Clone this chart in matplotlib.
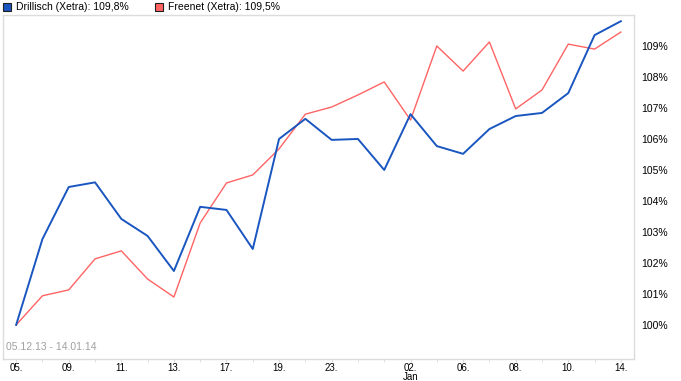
import matplotlib
matplotlib.use("Agg")
import matplotlib.pyplot as plt
from matplotlib.patches import Rectangle
from matplotlib.ticker import FixedLocator, FuncFormatter

# trading days 05.12.13 - 14.01.14 (Xetra)
days = ["05.", "06.", "09.", "10.", "11.", "12.", "13.", "16.", "17.", "18.",
        "19.", "20.", "23.", "27.", "30.", "02.", "03.", "06.", "07.", "08.",
        "09.", "10.", "13.", "14."]
shown_days = ["05.", "09.", "11.", "13.", "17.", "19.", "23.", "02.\nJan",
              "06.", "08.", "10.", "14."]
shown_index = [0, 2, 4, 6, 8, 10, 12, 15, 17, 19, 21, 23]

drillisch = [100.0, 102.77, 104.45, 104.6, 103.42, 102.87, 101.74, 103.81,
             103.71, 102.45, 106.0, 106.65, 105.97, 106.0, 105.0, 106.8,
             105.77, 105.52, 106.32, 106.74, 106.84, 107.48, 109.35, 109.8]
freenet = [100.0, 100.94, 101.13, 102.13, 102.39, 101.48, 100.9, 103.29,
           104.58, 104.84, 105.68, 106.8, 107.03, 107.42, 107.84, 106.61,
           109.0, 108.19, 109.13, 106.97, 107.58, 109.06, 108.9, 109.45]
y_ticks = [100, 101, 102, 103, 104, 105, 106, 107, 108, 109]

W, H = 681, 381
BLUE = "#1a56c0"
RED = "#ff6464"
GRID = "#dcdcdc"
FS = 7.5


def px(x, y):
    """pixel (top-left origin) -> figure fraction"""
    return x / W, 1 - y / H


plt.rcParams['font.family'] = ['Liberation Sans', 'DejaVu Sans']
fig = plt.figure(figsize=(W / 100, H / 100), dpi=100)
ax = fig.add_axes([3 / W, (H - 359) / H, 631 / W, 344 / H])

xs = list(range(len(days)))
ax.plot(xs, freenet, color=RED, lw=1.0)
ax.plot(xs, drillisch, color=BLUE, lw=1.4)

ax.set_xlim(-0.5, 23.5)
ax.set_ylim(98.9, 110.0)

for s in ax.spines.values():
    s.set_color(GRID)
    s.set_linewidth(1.0)

ax.yaxis.tick_right()
ax.set_yticks(y_ticks)
ax.yaxis.set_major_formatter(FuncFormatter(lambda v, p: f"{v:.0f}%"))
ax.tick_params(axis="y", length=0, pad=5, labelsize=FS)

ax.xaxis.set_major_locator(FixedLocator(shown_index))
ax.set_xticklabels(shown_days)
ax.xaxis.set_minor_locator(FixedLocator(xs))
ax.tick_params(axis="x", which="major", length=2, color=GRID, pad=1,
               labelsize=7)
ax.tick_params(axis="x", which="minor", length=2, color=GRID)
for lab in ax.get_xticklabels():
    lab.set_linespacing(0.85)

ax.text(0.004, 0.035, "05.12.13 - 14.01.14", transform=ax.transAxes,
        ha="left", va="center", fontsize=FS, color="#a0a0a0")

# legend
for x0, col, txt in [(3, BLUE, "Drillisch (Xetra): 109,8%"),
                     (155, RED, "Freenet (Xetra): 109,5%")]:
    fx, fy = px(x0, 11)
    fig.patches.append(Rectangle((fx, fy), 8 / W, 8 / H, facecolor=col,
                                 edgecolor="#202020", lw=0.8,
                                 transform=fig.transFigure, figure=fig))
    tx, ty = px(x0 + 13, 7)
    fig.text(tx, ty, txt, ha="left", va="center", fontsize=FS)

fig.savefig("out.png", dpi=100)
